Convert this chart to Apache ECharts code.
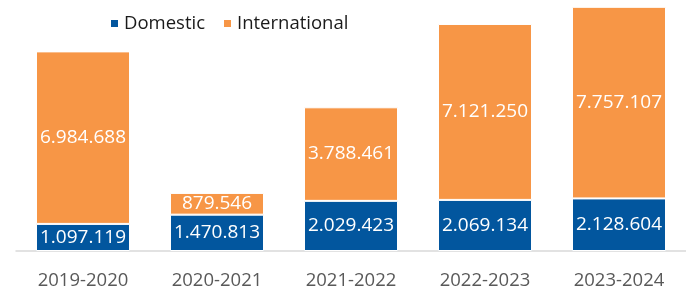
<!DOCTYPE html>
<html>
<head>
<meta charset="utf-8">
<script src="https://cdn.jsdelivr.net/npm/echarts@6/dist/echarts.min.js"></script>
<style>
  html, body { margin: 0; padding: 0; background: #fff; }
  #chart { width: 686px; height: 293px; }
</style>
</head>
<body>
<div id="chart"></div>
<script>
// data
var years = ['2019-2020', '2020-2021', '2021-2022', '2022-2023', '2023-2024'];
var domestic = [1097119, 1470813, 2029423, 2069134, 2128604];
var international = [6984688, 879546, 3788461, 7121250, 7757107];

// 1234567 -> 1.234.567
function fmt(v) {
    return String(v).replace(/\B(?=(\d{3})+(?!\d))/g, '.');
}

var myChart = echarts.init(document.getElementById('chart'));

var option = {
    animation: false,
    textStyle: { fontFamily: 'Open Sans' },
    legend: {
        left: 104,
        top: 9,
        icon: 'rect',
        itemWidth: 9,
        itemHeight: 9,
        itemGap: 17,
        textStyle: { fontSize: 18.5, color: '#1a1a1a', fontFamily: 'Open Sans' },
        data: ['Domestic', 'International']
    },
    grid: { left: 16, right: -3, top: 4, bottom: 42 },
    xAxis: {
        type: 'category',
        data: years,
        axisLine: { lineStyle: { color: '#d9d9d9', width: 1.5 } },
        axisTick: { show: false },
        axisLabel: { fontSize: 18.5, color: '#595959', margin: 20, fontFamily: 'Open Sans' }
    },
    yAxis: {
        type: 'value',
        min: 0,
        max: 10000000,
        show: false,
        splitLine: { show: false }
    },
    series: [
        {
            name: 'Domestic',
            type: 'bar',
            stack: 'total',
            barWidth: 94,
            data: domestic,
            itemStyle: { color: '#02569E', borderColor: '#fff', borderWidth: 1 },
            label: {
                show: true,
                position: 'inside',
                color: '#fff',
                fontSize: 19,
                fontFamily: 'Open Sans',
                formatter: function (p) { return fmt(p.value); }
            }
        },
        {
            name: 'International',
            type: 'bar',
            stack: 'total',
            barWidth: 94,
            data: international,
            itemStyle: { color: '#F79646', borderColor: '#fff', borderWidth: 1 },
            label: {
                show: true,
                position: 'inside',
                color: '#fff',
                fontSize: 19,
                fontFamily: 'Open Sans',
                formatter: function (p) { return fmt(p.value); }
            }
        }
    ]
};

myChart.setOption(option);
window.addEventListener('resize', function () {
    myChart.resize();
});
</script>
</body>
</html>
